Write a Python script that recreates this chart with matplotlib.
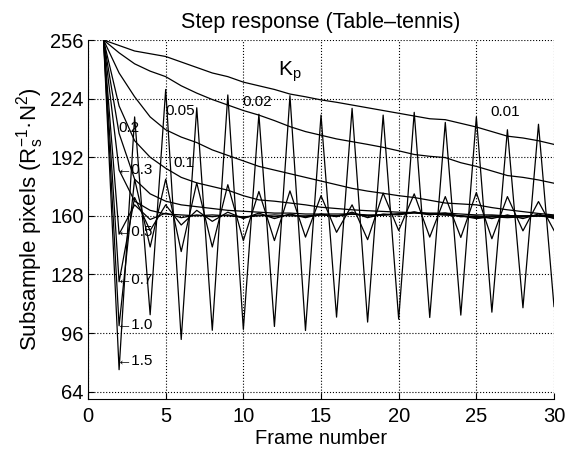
import numpy as np
import matplotlib
matplotlib.use('Agg')
import matplotlib.pyplot as plt

plt.rcParams['font.family'] = ['Liberation Sans', 'DejaVu Sans']
plt.rcParams['mathtext.fontset'] = 'custom'
plt.rcParams['mathtext.rm'] = 'Liberation Sans'
plt.rcParams['mathtext.it'] = 'Liberation Sans'

# 帧号
frames = list(range(1, 31))

# 各Kp的阶跃响应
kp_001 = [256, 253, 250, 248.5, 247, 244, 241, 238, 236, 233, 231, 229, 226.5, 225, 223.3,
          222, 220.5, 219, 217.5, 216, 214.5, 213, 212.5, 210.5, 208.5, 206, 203.5, 202.5, 201, 199]
kp_002 = [256, 249, 243, 239, 236, 231, 227, 223.5, 220.5, 217.5, 215, 212, 208.7, 206, 204,
          202, 200.5, 199, 197.4, 195.5, 193.5, 192.5, 191.8, 189, 187, 184.5, 182, 181, 179.6, 177.8]
kp_005 = [256, 238, 225, 214, 207, 203, 200, 196, 193, 190, 187, 185, 183, 181, 179,
          177, 175, 173.5, 172.3, 171, 170, 168.5, 167, 166.5, 166, 164.5, 163.3, 162.3, 161.3, 160.5]
kp_01 = [256, 220, 201, 192, 186, 181, 178, 176, 174, 171, 168.7, 168, 167, 166, 164.7,
         164, 163.3, 162.8, 162.4, 162, 161.8, 161.5, 161.5, 161, 160.5, 160.5, 160, 160, 160, 160]
kp_02 = [256, 205, 180, 172, 168, 166, 165, 164, 163, 162.5, 162, 161.5, 161.5, 161, 161,
         161, 161, 160.5, 160.5, 161, 161.5, 161, 160.5, 160, 159.5, 160, 160, 160, 160, 160]
kp_03 = [256, 185, 168, 163, 161, 160.5, 160, 160.5, 160, 159.5, 160, 160.5, 160, 160, 160.5,
         160, 161, 160, 160.5, 161, 162, 161, 160.5, 160, 159, 159.5, 159.5, 159.5, 160, 159.5]
kp_05 = [256, 150, 166, 158, 161.5, 159, 160.5, 159.5, 160.5, 159, 160.5, 159.5, 160.5, 159.5, 160.5,
         160, 161, 160, 160.5, 161, 162, 161, 161, 160, 158.5, 159.5, 159, 159.5, 160, 159]
kp_07 = [256, 124, 170, 152, 166, 155, 163, 157, 162, 158.5, 161.5, 158.5, 161, 159, 161,
         159.5, 162, 159, 161, 160.5, 162, 160.5, 161.5, 159.5, 160, 158.5, 160.5, 158.5, 161, 158.5]
kp_10 = [256, 100, 180, 143, 180, 140.5, 178, 143, 177, 146.5, 173.3, 146.5, 173.6, 148.4, 171,
         151, 166, 147, 172.4, 152, 172, 148.4, 170.5, 148.2, 172.7, 147.5, 170.5, 151.8, 167.8, 152]
kp_15 = [256, 76, 214, 106, 229, 92.5, 219, 97.5, 226, 98, 215.5, 99.6, 225.6, 97.4, 215,
         104.7, 218.7, 102, 215, 103.6, 216.5, 104.5, 211, 105.8, 214, 107.4, 207, 109.8, 210, 110.5]

series = [kp_001, kp_002, kp_005, kp_01, kp_02, kp_03, kp_05, kp_07, kp_10, kp_15]

fig = plt.figure(figsize=(5.88, 4.51), dpi=100)
ax = fig.add_axes([0.1497, 0.1153, 0.7925, 0.796])

for s in series:
    ax.plot(frames, s, color='black', linewidth=0.9)

ax.set_xlim(0, 30)
ax.set_ylim(60, 256)
ax.set_xticks([0, 5, 10, 15, 20, 25, 30])
ax.set_yticks([64, 96, 128, 160, 192, 224, 256])
ax.tick_params(direction='in', labelsize=14.5, length=4, colors='black')
ax.tick_params(axis='x', pad=6)
ax.tick_params(axis='y', pad=3)
ax.grid(True, linestyle=':', color='black', linewidth=0.8)
ax.spines['top'].set_visible(False)
ax.spines['right'].set_visible(False)

ax.set_title('Step response (Table\u2013tennis)', fontsize=15.5, pad=9)
ax.set_xlabel('Frame number', fontsize=14.5, labelpad=2)
ax.set_ylabel('Subsample pixels (R$_\\mathregular{s}^\\mathregular{-1}$\u00b7N$^\\mathregular{2}$)',
              fontsize=16, labelpad=3)

# 标注
ax.text(12.2, 236.5, 'K$_\\mathregular{p}$', fontsize=15)
ax.text(25.9, 216.5, '0.01', fontsize=11, va='center')
ax.text(9.95, 222, '0.02', fontsize=11, va='center')
ax.text(4.95, 217, '0.05', fontsize=11, va='center')
ax.text(5.5, 189, '0.1', fontsize=11, va='center')
ax.text(1.95, 208, '0.2', fontsize=11, va='center')
for lab, yv in [('0.3', 185), ('0.5', 151), ('0.7', 125), ('1.0', 100.5), ('1.5', 81)]:
    ax.text(1.85, yv, '\u2190' + lab, fontsize=11, va='center')

plt.savefig('out.png', dpi=100)
